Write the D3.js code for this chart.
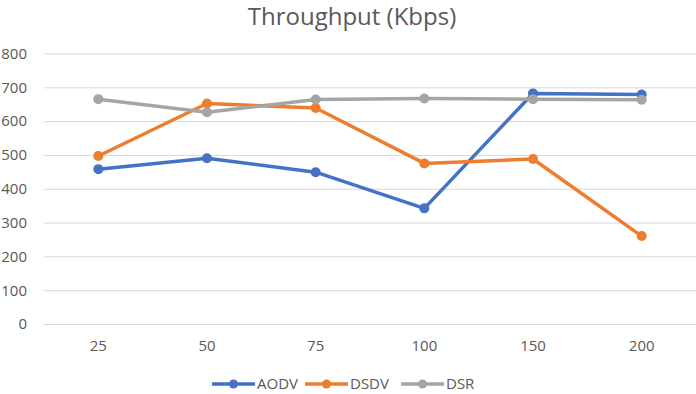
<!DOCTYPE html>
<html>
<head>
<meta charset="utf-8">
<script src="https://cdn.jsdelivr.net/npm/d3@7"></script>
<style>
  body { margin: 0; background: #fff; }
  svg { font-family: "Open Sans", "Liberation Sans", sans-serif; }
</style>
</head>
<body>
<div id="chart"></div>
<script>
// data
let categories = ["25", "50", "75", "100", "150", "200"];
let aodv = [458, 490, 449, 342, 682, 679];
let dsdv = [497, 652, 639, 475, 488, 260];
let dsr = [665, 626, 664, 667, 665, 663];
let yTicks = [0, 100, 200, 300, 400, 500, 600, 700, 800];

let series = [
  { name: "AODV", values: aodv, color: "#4472c4" },
  { name: "DSDV", values: dsdv, color: "#ed7d31" },
  { name: "DSR", values: dsr, color: "#a5a5a5" }
];

let svg = d3.select("#chart").append("svg")
    .attr("width", 696)
    .attr("height", 394),
  plotLeft = 44,
  plotRight = 696,
  plotTop = 53.5,
  plotBottom = 324;

let xScale = d3.scaleBand().domain(categories).range([plotLeft, plotRight]),
  yScale = d3.scaleLinear().domain([0, 800]).range([plotBottom, plotTop]);

// title
svg.append("text")
  .attr("x", 352)
  .attr("y", 25)
  .attr("text-anchor", "middle")
  .style("font-size", "24px")
  .style("fill", "#595959")
  .text("Throughput (Kbps)");

// gridlines + y labels
let yAxis = svg.append("g")
  .attr("transform", "translate(" + plotLeft + ",0)")
  .call(d3.axisLeft(yScale).tickValues(yTicks).tickSize(-(plotRight - plotLeft)).tickPadding(17));
yAxis.select(".domain").remove();
yAxis.selectAll("line").attr("stroke", "#d9d9d9");
yAxis.selectAll("text")
  .style("font-size", "15px")
  .style("fill", "#595959")
  .style("font-family", "'Open Sans', sans-serif");

// x labels
let xAxis = svg.append("g")
  .attr("transform", "translate(0," + plotBottom + ")")
  .call(d3.axisBottom(xScale).tickSize(0).tickPadding(16));
xAxis.select(".domain").remove();
xAxis.selectAll("text")
  .style("font-size", "15px")
  .style("fill", "#595959")
  .style("font-family", "'Open Sans', sans-serif");

let line = d3.line()
  .x((d, i) => xScale(categories[i]) + xScale.bandwidth() / 2)
  .y((d) => yScale(d));

series.forEach((s) => {
  svg.append("path")
    .datum(s.values)
    .attr("d", line)
    .attr("fill", "none")
    .attr("stroke", s.color)
    .attr("stroke-width", 3.5)
    .attr("stroke-linejoin", "round");

  svg.append("g")
    .selectAll("circle")
    .data(s.values)
    .enter()
    .append("circle")
    .attr("cx", (d, i) => xScale(categories[i]) + xScale.bandwidth() / 2)
    .attr("cy", (d) => yScale(d))
    .attr("r", 5)
    .style("fill", s.color);
});

// legend
let legendX = [212, 305, 401];
let legend = svg.append("g");
series.forEach((s, i) => {
  let g = legend.append("g").attr("transform", "translate(" + legendX[i] + ",384)");
  g.append("line")
    .attr("x1", 0).attr("x2", 43)
    .attr("stroke", s.color)
    .attr("stroke-width", 3.5);
  g.append("circle")
    .attr("cx", 21.5).attr("r", 4.5)
    .style("fill", s.color);
  g.append("text")
    .attr("x", 45)
    .attr("dy", "0.35em")
    .style("font-size", "15px")
    .style("fill", "#595959")
    .text(s.name);
});
</script>
</body>
</html>
